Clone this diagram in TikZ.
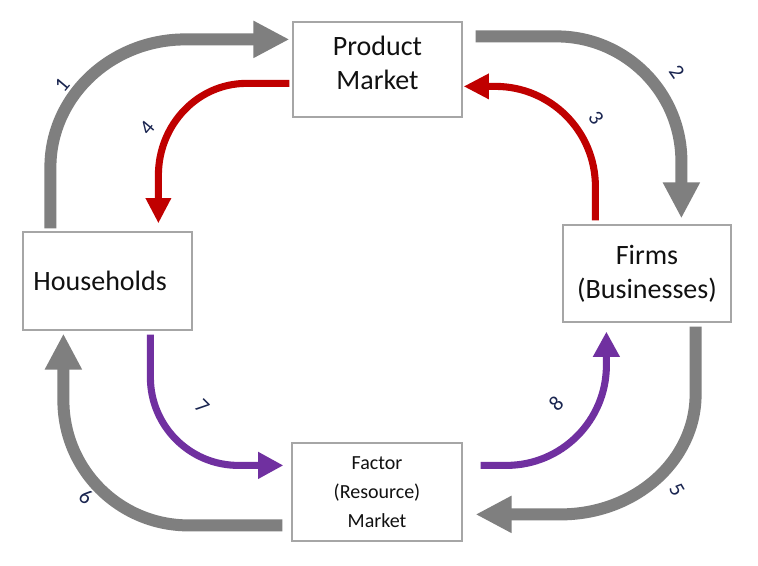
\documentclass[tikz,border=0pt]{standalone}
\usepackage{fontspec}
\setmainfont{Carlito}
\usetikzlibrary{arrows.meta,calc}
\definecolor{arrgray}{HTML}{7F7F7F}
\definecolor{arrred}{HTML}{C00000}
\definecolor{arrpurple}{HTML}{7030A0}
\definecolor{numblue}{HTML}{1A2550}
\definecolor{boxline}{HTML}{A6A6A6}
\definecolor{boxtext}{HTML}{111111}
\begin{document}
\begin{tikzpicture}[x=0.75pt,y=0.75pt,
  box/.style={draw=boxline, line width=0.9pt, fill=white, align=center, inner sep=0pt, text=boxtext},
  bigtext/.style={font=\fontsize{21}{25.5}\selectfont},
  smalltext/.style={font=\fontsize{15}{21.75}\selectfont},
  bigflow/.style={draw=arrgray, line width=9pt, -{Triangle[length=27pt,width=26pt]}},
  redflow/.style={draw=arrred, line width=5.3pt, -{Triangle[length=19pt,width=18pt]}},
  purpflow/.style={draw=arrpurple, line width=5.3pt, -{Triangle[length=19pt,width=19pt]}},
  num/.style={text=numblue, font=\fontsize{16}{16}\selectfont, inner sep=0pt}]
\useasboundingbox[fill=white] (0,0) rectangle (758,-566);

% boxes
\node[box, bigtext, minimum width=126.75pt, minimum height=71.25pt, text depth=10pt] (pm) at (377.5,-69.5) {Product\\Market};
\node[box, bigtext, minimum width=126.75pt, minimum height=73.5pt] (hh) at (107.5,-281) {Households\hspace*{11pt}};
\node[box, bigtext, minimum width=126pt, minimum height=72.75pt] (fi) at (647,-273.5) {Firms\\(Businesses)};
\node[box, smalltext, minimum width=127.5pt, minimum height=73.5pt] (fa) at (377,-492) {Factor\\(Resource)\\Market};

% connector end points on the boxes
\coordinate (a1) at ($(hh.north west)+(28,3)$);   \coordinate (b1) at ($(pm.north west)+(-3,-18)$);
\coordinate (a2) at ($(pm.north east)+(13,-15)$); \coordinate (b2) at ($(fi.north west)+(119,6)$);
\coordinate (a3) at ($(fi.north west)+(33,4)$);   \coordinate (b3) at ($(pm.north east)+(1,-65)$);
\coordinate (a4) at ($(pm.north west)+(-3,-62)$); \coordinate (b4) at ($(hh.north west)+(136,8)$);
\coordinate (a5) at ($(fi.south east)+(-36,-4)$); \coordinate (b5) at ($(fa.north east)+(13,-72)$);
\coordinate (a6) at ($(fa.north west)+(-9,-83)$); \coordinate (b6) at ($(hh.south west)+(41,-3)$);
\coordinate (a7) at ($(hh.south west)+(128,-4)$); \coordinate (b7) at ($(fa.north west)+(-8,-23)$);
\coordinate (a8) at ($(fa.north east)+(18,-23)$); \coordinate (b8) at ($(fi.south west)+(44,-9)$);

% gray flows
\draw[bigflow] (a1) -- ($(a1|-b1)+(0,-128)$) arc[start angle=180, end angle=90, x radius=135, y radius=128] -- (b1);
\draw[bigflow] (a2) -- ($(b2|-a2)+(-125,0)$) arc[start angle=90, end angle=0, x radius=125, y radius=125] -- (b2);
\draw[bigflow] (a5) -- ($(a5|-b5)+(0,120)$) arc[start angle=0, end angle=-90, x radius=135, y radius=120] -- (b5);
\draw[bigflow] (a6) -- ($(b6|-a6)+(125,0)$) arc[start angle=-90, end angle=-180, x radius=125, y radius=125] -- (b6);

% red flows
\draw[redflow] (a3) -- ($(a3|-b3)+(0,-100)$) arc[start angle=0, end angle=90, x radius=100, y radius=100] -- (b3);
\draw[redflow] (a4) -- ($(b4|-a4)+(88,0)$) arc[start angle=90, end angle=180, x radius=88, y radius=92] -- (b4);

% purple flows
\draw[purpflow] (a7) -- ($(a7|-b7)+(0,88)$) arc[start angle=180, end angle=270, x radius=88, y radius=88] -- (b7);
\draw[purpflow] (a8) -- ($(b8|-a8)+(-100,0)$) arc[start angle=-90, end angle=0, x radius=100, y radius=100] -- (b8);

% numbers
\node[num, rotate=50] (n1) at (62,-85) {1};
\node[num, rotate=-55] (n2) at (677,-72) {2};
\node[num, rotate=-55] (n3) at (596,-118) {3};
\node[num, rotate=50] (n4) at (147,-128) {4};
\node[num, rotate=-60] (n5) at (677,-490) {5};
\node[num, rotate=-35] (n6) at (86,-497) {6};
\node[num, rotate=-45] (n7) at (202,-406) {7};
\node[num, rotate=45] (n8) at (556,-404) {8};
\end{tikzpicture}
\end{document}
